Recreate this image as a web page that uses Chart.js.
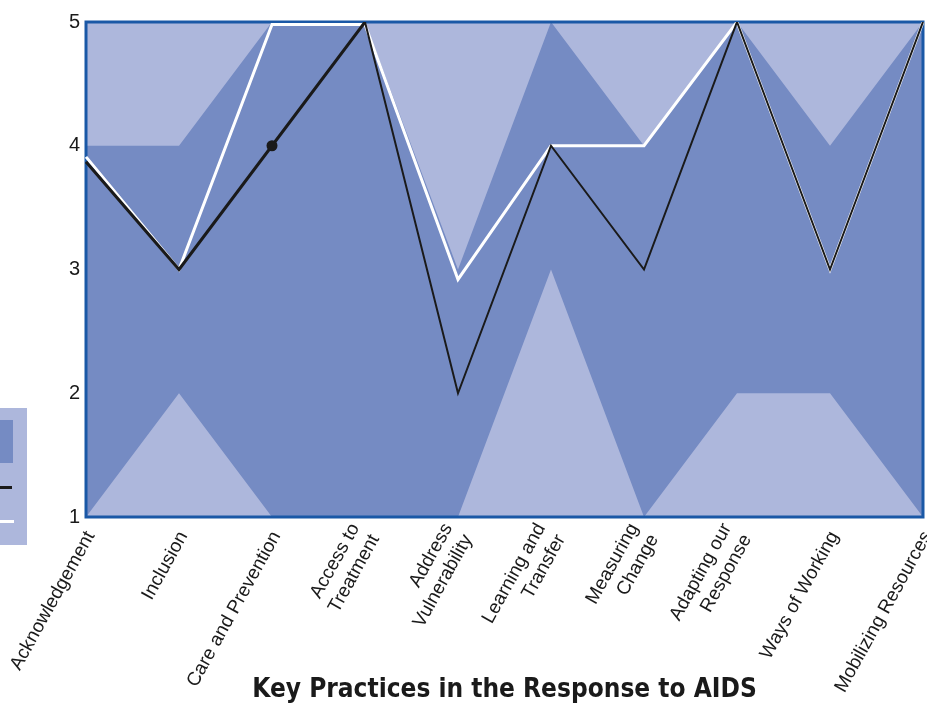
<!DOCTYPE html>
<html lang="en">
<head>
    <meta charset="UTF-8">
    <title>Key Practices in the Response to AIDS</title>
    <style>
        body { margin: 0; background: #fff; }
        #wrap { position: relative; width: 927px; height: 706px; overflow: hidden; }
        #myChart { position: absolute; left: 0; top: 0; }
        .key { position: absolute; }
    </style>
    <script src="https://cdn.jsdelivr.net/npm/chart.js"></script>
</head>
<body>
    <div id="wrap">
        <canvas id="myChart" width="927" height="706"></canvas>
        <!-- legend box, mostly cut off at the left edge like the original -->
        <div class="key" style="left:0;top:408px;width:27px;height:137px;background:#adb7dc;"></div>
        <div class="key" style="left:0;top:420px;width:13px;height:43px;background:#758bc3;"></div>
        <div class="key" style="left:0;top:486px;width:12px;height:3px;background:#1a1a1a;"></div>
        <div class="key" style="left:0;top:520px;width:14px;height:3px;background:#ffffff;"></div>
    </div>
    <script>
        var darkBlue = '#758bc3';
        var lightBlue = '#adb7dc';
        var frameBlue = '#1a58a6';
        var labelFont = "'Liberation Sans', Arial, sans-serif";
        var titleFont = "'Liberation Sans Narrow', 'DejaVu Sans Condensed', sans-serif";

        // categories (multi-line labels as arrays)
        var practices = [
            'Acknowledgement',
            'Inclusion',
            'Care and Prevention',
            ['Access to', 'Treatment'],
            ['Address', 'Vulnerability'],
            ['Learning and', 'Transfer'],
            ['Measuring', 'Change'],
            ['Adapting our', 'Response'],
            'Ways of Working',
            'Mobilizing Resources'
        ];

        // range of scores (light above the max, light below the min)
        var rangeMax = [4, 4, 5, 5, 3, 5, 4, 5, 4, 5];
        var rangeMin = [1, 2, 1, 1, 1, 3, 1, 2, 2, 1];

        // the two score lines
        var blackScores = [3.87, 3, 4, 5, 2, 4, 3, 5, 3, 5];
        var whiteScores = [3.91, 3, 4.98, 4.98, 2.92, 4, 4, 5, 3, 5];

        // only the Care and Prevention point carries a dot
        var blackDots = [0, 0, 5.5, 0, 0, 0, 0, 0, 0, 0];

        var yMin = 1, yMax = 5, yStep = 1;

        // light fill behind everything inside the plot area
        var plotBackground = {
            id: 'plotBackground',
            beforeDatasetsDraw: function(chart) {
                var a = chart.chartArea, ctx = chart.ctx;
                ctx.save();
                ctx.fillStyle = lightBlue;
                ctx.fillRect(a.left, a.top, a.right - a.left, a.bottom - a.top);
                ctx.restore();
            }
        };

        // frame round the plot, drawn after the range fill but under the lines
        var plotFrame = {
            id: 'plotFrame',
            afterDatasetDraw: function(chart, args) {
                if (args.index !== 2) return;
                var a = chart.chartArea, ctx = chart.ctx;
                ctx.save();
                ctx.strokeStyle = frameBlue;
                ctx.lineWidth = 3;
                ctx.strokeRect(a.left, a.top, a.right - a.left, a.bottom - a.top);
                ctx.restore();
            }
        };

        // rotated two-line labels sit centred on their tick, one-liners nudged a bit
        var labelNudge = {
            id: 'labelNudge',
            beforeDraw: function(chart) {
                var items = chart.scales.x.getLabelItems(chart.chartArea);
                items.forEach(function(item) {
                    if (item._nudged) return;
                    var lh = item.font.lineHeight;
                    if (Array.isArray(item.label)) {
                        item.textOffset -= (item.label.length - 1) * lh / 2;
                    } else {
                        item.textOffset += 5;
                    }
                    item._nudged = true;
                });
            }
        };

        var ctx = document.getElementById('myChart').getContext('2d');
        var myChart = new Chart(ctx, {
            type: 'line',
            data: {
                labels: practices,
                datasets: [{
                    label: 'Black',
                    data: blackScores,
                    borderColor: '#1a1a1a',
                    borderWidth: 2,
                    segment: {
                        borderWidth: function(c) { return c.p0DataIndex < 3 ? 3 : 2; }
                    },
                    pointRadius: blackDots,
                    pointBackgroundColor: '#1a1a1a',
                    pointBorderWidth: 0,
                    fill: false,
                    tension: 0
                }, {
                    label: 'White',
                    data: whiteScores,
                    borderColor: '#ffffff',
                    borderWidth: 3,
                    pointRadius: 0,
                    fill: false,
                    tension: 0
                }, {
                    label: 'Max',
                    data: rangeMax,
                    borderColor: 'transparent',
                    borderWidth: 0,
                    pointRadius: 0,
                    backgroundColor: darkBlue,
                    fill: '+1',
                    tension: 0
                }, {
                    label: 'Min',
                    data: rangeMin,
                    borderColor: 'transparent',
                    borderWidth: 0,
                    pointRadius: 0,
                    fill: false,
                    tension: 0
                }]
            },
            options: {
                responsive: false,
                animation: false,
                events: [],
                layout: {
                    padding: { left: 0, right: 4, top: 22, bottom: 0 }
                },
                scales: {
                    x: {
                        offset: false,
                        grid: { display: false, drawTicks: false },
                        border: { display: false },
                        ticks: {
                            autoSkip: false,
                            maxRotation: 61,
                            minRotation: 61,
                            padding: 8,
                            color: '#1a1a1a',
                            font: { family: labelFont, size: 19, lineHeight: 1.2 }
                        },
                        afterFit: function(scale) {
                            scale.height = 189;
                            scale.paddingLeft = 0;
                            scale.paddingRight = 0;
                        }
                    },
                    y: {
                        min: yMin,
                        max: yMax,
                        grid: { display: false, drawTicks: false },
                        border: { display: false },
                        ticks: {
                            stepSize: yStep,
                            padding: 6,
                            color: '#1a1a1a',
                            font: { family: labelFont, size: 20 }
                        },
                        afterFit: function(scale) { scale.width = 86; }
                    }
                },
                plugins: {
                    legend: { display: false },
                    tooltip: { enabled: false },
                    title: {
                        display: true,
                        position: 'bottom',
                        fullSize: false,
                        text: 'Key Practices in the Response to AIDS',
                        color: '#1a1a1a',
                        // negative top padding: the title overlaps the tall label band
                        padding: { top: -31.2, bottom: 0 },
                        font: { family: titleFont, size: 26, weight: 'bold', lineHeight: 1.2 }
                    }
                }
            },
            plugins: [plotBackground, plotFrame, labelNudge]
        });
    </script>
</body>
</html>
